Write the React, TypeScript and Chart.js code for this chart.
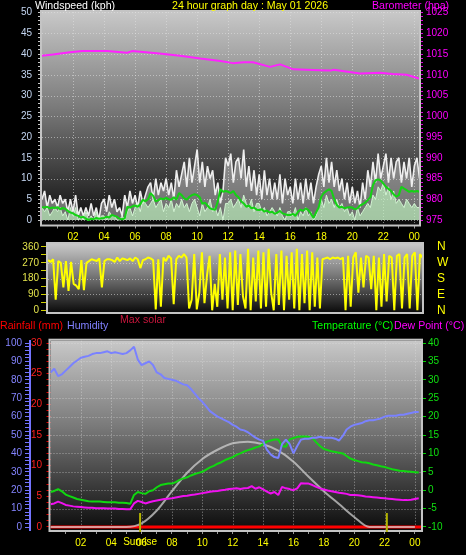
import React, { useEffect, useRef } from 'react';
import { Chart, registerables } from 'chart.js';

Chart.register(...registerables);

const FONT = '"Liberation Sans", Arial, sans-serif';

// ---------- time axis ----------
const FINE_STEP_MIN = 10; // wind samples every 10 minutes
const COARSE_STEP_MIN = 15; // temperature / humidity samples every 15 minutes
const HOUR_TICKS = [2, 4, 6, 8, 10, 12, 14, 16, 18, 20, 22, 24];
const HOUR_LABELS = ['02', '04', '06', '08', '10', '12', '14', '16', '18', '20', '22', '00'];

// ---------- axis tick labels ----------
const WIND_TICKS = [0, 5, 10, 15, 20, 25, 30, 35, 40, 45, 50];
const BARO_TICKS = [975, 980, 985, 990, 995, 1000, 1005, 1010, 1015, 1020, 1025];
const DIR_TICKS = [0, 90, 180, 270, 360];
const DIR_LABELS = ['0', '90', '180', '270', '360'];
const COMPASS_LABELS = ['N', 'E', 'S', 'W', 'N'];
const HUM_TICKS = [0, 10, 20, 30, 40, 50, 60, 70, 80, 90, 100];
const RAIN_TICKS = [0, 5, 10, 15, 20, 25, 30];
const TEMP_TICKS = [-10, -5, 0, 5, 10, 15, 20, 25, 30, 35, 40];

// ---------- wind (kph), one value per 10 minutes, 00:00 .. 24:20 ----------
const WIND_GUST = [
  5, 7, 3, 6, 4, 5, 3, 6, 4, 5, 2, 5,
  2, 6, 1, 3, 1, 3, 1, 4, 1, 3, 0, 4,
  5, 2, 6, 3, 5, 2, 3, 1, 6, 3, 7, 4,
  6, 3, 7, 4, 6, 8, 9, 5, 10, 6, 9, 7,
  10, 6, 9, 5, 12, 8, 11, 14, 8, 15, 9, 13,
  17, 9, 14, 8, 13, 10, 12, 6, 9, 4, 7, 15,
  13, 16, 9, 14, 15, 10, 17, 8, 13, 7, 12, 6,
  11, 5, 12, 6, 10, 5, 9, 5, 11, 4, 10, 6,
  8, 4, 10, 5, 9, 4, 10, 5, 9, 4, 8, 11,
  13, 8, 15, 9, 14, 8, 12, 7, 10, 5, 9, 4,
  8, 4, 7, 3, 9, 5, 12, 8, 14, 9, 16, 10,
  13, 16, 9, 15, 10, 14, 15, 9, 14, 10, 15, 8,
  13, 15, 10,
];
const WIND_SPEED = [
  3, 2, 3, 1, 2, 3, 2, 3, 1, 2, 0, 3,
  1, 3, 0, 1, 0, 2, 0, 1, 0, 2, 0, 1,
  1, 0, 2, 1, 1, 0, 0, 1, 0, 2, 3, 1,
  3, 4, 2, 5, 4, 3, 4, 5, 3, 4, 5, 2,
  4, 3, 5, 2, 4, 3, 5, 3, 4, 2, 4, 5,
  3, 1, 4, 2, 3, 5, 2, 3, 1, 3, 0, 4,
  4, 5, 3, 4, 5, 3, 6, 4, 3, 5, 2, 4,
  4, 2, 3, 1, 2, 3, 2, 1, 3, 1, 0, 2,
  2, 1, 3, 0, 2, 1, 3, 1, 2, 0, 1, 3,
  5, 3, 6, 4, 5, 3, 5, 3, 4, 2, 3, 1,
  2, 0, 3, 1, 2, 3, 4, 3, 6, 5, 8, 7,
  9, 6, 8, 5, 7, 4, 5, 4, 3, 5, 4, 3,
  4, 3, 3,
];
const WIND_AVG = [
  3.1, 3.0, 3.2, 2.8, 3.0, 2.9, 3.1, 2.6, 2.9, 2.7, 2.2, 1.8,
  1.6, 1.2, 1.0, 0.6, 0.8, 0.3, 0.0, 0.3, 0.2, 0.5, 0.3, 0.4,
  0.5, 0.8, 0.6, 1.2, 1.0, 0.8, 0.3, 0.2, 0.4, 3.2, 3.0, 3.3,
  3.5, 3.2, 3.8, 4.9, 4.5, 5.0, 6.5, 5.8, 4.5, 4.8, 5.2, 5.0,
  5.3, 5.0, 4.9, 5.5, 4.9, 6.5, 6.0, 5.2, 4.9, 5.6, 6.0, 6.2,
  6.0, 5.5, 3.9, 4.2, 3.5, 2.8, 2.6, 2.5, 4.5, 7.4, 6.8, 7.0,
  6.8, 6.5, 7.0, 6.0, 5.5, 4.5, 4.0, 3.2, 3.5, 2.8, 3.0, 2.5,
  2.4, 2.6, 2.0, 2.3, 1.8, 2.0, 1.5, 1.8, 2.2, 1.6, 1.4, 1.2,
  1.2, 1.5, 1.0, 2.0, 2.5, 2.2, 2.8, 2.4, 1.5, 0.5, 1.8, 3.0,
  5.6, 6.5, 7.0, 7.4, 7.0, 5.0, 3.6, 3.0, 3.2, 2.8, 3.0, 3.1,
  3.0, 2.6, 2.8, 3.5, 3.8, 4.2, 4.8, 5.5, 8.4, 9.6, 9.8, 9.5,
  8.8, 8.0, 7.5, 7.0, 6.2, 5.6, 6.0, 8.0, 7.6, 7.2, 6.8, 7.0,
  6.8, 7.0, 6.8,
];
// wind direction (degrees), one value per 10 minutes
const WIND_DIR = [
  285, 275, 290, 60, 280, 270, 130, 280, 110, 275, 150, 140,
  120, 285, 115, 270, 280, 290, 285, 280, 295, 130, 280, 290,
  290, 285, 275, 300, 280, 295, 290, 285, 295, 280, 300, 290,
  240, 285, 290, 300, 295, 285, 5, 290, 20, 300, 280, 310,
  295, 35, 290, 310, 300, 320, 300, 10, 60, 320, 5, 100,
  330, 40, 200, 310, 0, 150, 20, 320, 60, 300, 10, 330,
  0, 340, 30, 320, 80, 10, 350, 0, 300, 50, 340, 10,
  330, 20, 350, 100, 0, 320, 30, 340, 0, 310, 60, 330,
  10, 350, 0, 320, 40, 340, 0, 330, 20, 300, 10, 290,
  295, 300, 290, 300, 295, 300, 290, 300, 0, 310, 20, 300,
  330, 100, 300, 130, 310, 300, 120, 310, 0, 300, 20, 320,
  50, 310, 300, 0, 310, 320, 10, 300, 320, 10, 310, 330,
  0, 320, 300,
];

// ---------- barometer (hPa) ----------
const BARO_HOURS = [0, 0.7, 1.8, 2.6, 4.2, 5.5, 5.8, 7.4, 8.9, 10.2, 11.5, 12.3, 13.0, 13.6, 14.7, 15.35, 16.2, 17.9, 18.6, 18.8, 20.5, 21.8, 22.6, 23.5, 24.3];
const BARO_HPA = [1014.6, 1014.9, 1015.4, 1015.7, 1015.7, 1015.3, 1015.7, 1015.2, 1014.6, 1013.9, 1013.3, 1012.8, 1013.0, 1013.0, 1011.9, 1012.5, 1011.3, 1011.1, 1011.0, 1011.2, 1010.3, 1010.5, 1010.2, 1010.0, 1009.1];

// ---------- humidity (%), temperature and dew point (°C), one value per 15 minutes ----------
const HUMIDITY = [
  84, 86, 82, 83, 85, 87, 89, 90.5,
  92, 92.5, 93, 94, 94.5, 94.5, 95, 95.5,
  94.5, 95, 94.5, 94, 94.5, 96, 98, 91,
  88, 89, 90, 88, 84, 83, 81, 80.5,
  80, 79.5, 78.5, 77.5, 77, 75, 72.5, 70,
  68, 65.5, 63, 61.5, 60, 59, 58, 57,
  55.5, 54.5, 53, 52.5, 51.5, 50, 48.6, 47.5,
  46.8, 42, 39.5, 38, 37.5, 45, 47.5, 45,
  40, 44, 47.5, 48, 48, 48.5, 48.5, 49,
  48.5, 48.5, 48.5, 48, 47, 49.5, 53, 54.5,
  55.5, 56, 56.5, 57.5, 58, 58, 58.5, 59,
  60, 60.5, 60.5, 60.5, 61, 61, 61.5, 62,
  62.5, 62.5,
];
const TEMPERATURE = [
  -0.5, -0.2, 0.3, -0.3, -1.2, -1.6, -2.0, -2.4,
  -2.6, -2.8, -3.0, -3.1, -3.1, -3.1, -3.2, -3.3,
  -3.3, -3.3, -3.4, -3.4, -3.5, -3.7, -1.3, -0.5,
  -0.8, -1.0, -0.3, 0.0, 0.8, 1.4, 1.6, 1.8,
  1.8, 2.2, 2.8, 3.2, 3.5, 4.0, 4.4, 4.7,
  5.0, 5.6, 6.2, 6.6, 7.2, 7.6, 8.2, 8.6,
  9.0, 9.6, 10.0, 10.5, 10.9, 11.2, 11.6, 11.9,
  12.5, 13.2, 13.5, 13.8, 13.8, 12.0, 11.8, 13.8,
  14.2, 14.5, 14.6, 14.6, 14.5, 14.2, 13.0, 12.0,
  11.2, 10.9, 10.6, 10.4, 10.2, 10.0, 9.3, 8.6,
  8.2, 7.9, 7.6, 7.5, 7.3, 7.0, 6.8, 6.5,
  6.3, 6.0, 5.7, 5.5, 5.3, 5.2, 5.1, 5.0,
  4.9, 4.8,
];
const DEW_POINT = [
  -3.8, -3.6, -3.1, -3.5, -4.0, -4.2, -4.4, -4.5,
  -4.6, -4.7, -4.8, -4.8, -4.9, -4.9, -4.9, -5.0,
  -5.0, -5.0, -5.1, -5.1, -5.2, -5.2, -3.6, -2.9,
  -3.2, -3.6, -3.3, -3.0, -2.8, -2.6, -2.4, -2.3,
  -2.2, -2.0, -1.8, -1.6, -1.5, -1.3, -1.2, -1.0,
  -0.8, -0.6, -0.4, -0.3, -0.2, 0.0, 0.1, 0.3,
  0.4, 0.5, 0.3, 0.5, 0.6, 1.1, 0.4, 0.8,
  0.2, -0.4, -0.9, -0.5, -1.3, 0.9, 0.5, 0.3,
  0.0, 0.5, 1.9, 1.8, 1.8, 1.4, 0.9, 0.5,
  0.2, -0.1, -0.3, -0.5, -0.7, -0.85, -1.0, -1.3,
  -1.3, -1.4, -1.5, -1.7, -1.8, -1.9, -2.0, -2.1,
  -2.2, -2.3, -2.4, -2.5, -2.6, -2.7, -2.7, -2.6,
  -2.4, -2.2,
];

// ---------- rainfall (mm) and max solar (W/m²) ----------
const RAIN_HOURS = [0, 24.4];
const RAIN_MM = [0, 0];
const SOLAR_HOURS = [0, 1, 2, 3, 4, 5, 6, 7, 8, 9, 10, 11, 12, 13, 14, 15, 16, 17, 18, 19, 20, 21, 22, 23, 24];
const MAX_SOLAR = [0, 0, 0, 0, 0, 0, 40, 180, 390, 590, 740, 840, 910, 928, 900, 830, 710, 546, 390, 250, 110, 0, 0, 0, 0];

const SUN_EVENT_HOURS = [5.9, 22.15];
const SUN_EVENT_LABELS = ['Sunrise', ''];

// ---------- helpers ----------
const series = (vals: number[], stepMin: number) => vals.map((y, i) => ({ x: (i * stepMin) / 60, y }));
const pairs = (xs: number[], ys: number[]) => xs.map((x, i) => ({ x, y: ys[i] }));
const tickRange = (from: number, to: number, step: number) => {
  const out: any[] = [];
  for (let v = from; v <= to; v += step) out.push({ value: v });
  return out;
};

const timeAxis = (max: number, height: number, showLabels: boolean) => ({
  type: 'linear',
  min: 0,
  max,
  afterFit: (s: any) => {
    s.height = height;
  },
  afterBuildTicks: (s: any) => {
    s.ticks = tickRange(1, 24, 1);
  },
  ticks: {
    display: showLabels,
    color: '#ffff00',
    font: { family: FONT, size: 10 },
    padding: 3,
    autoSkip: false,
    maxRotation: 0,
    callback: (v: any) => {
      const i = HOUR_TICKS.indexOf(v);
      return i >= 0 ? HOUR_LABELS[i] : '';
    },
  },
  grid: { display: showLabels, drawOnChartArea: false, tickLength: 4, tickColor: '#9a9a9a', color: '#9a9a9a' },
  border: { display: false },
});

const valueAxis = (o: any) => ({
  type: 'linear',
  position: o.position,
  weight: o.weight || 0,
  min: o.min,
  max: o.max,
  afterFit: (s: any) => {
    s.width = o.width;
  },
  afterBuildTicks: (s: any) => {
    s.ticks = tickRange(o.from, o.to, o.step);
  },
  ticks: {
    color: o.color,
    font: { family: FONT, size: o.fontSize || 10 },
    padding: o.padding,
    autoSkip: false,
    callback: (v: any) => {
      const i = o.majors.indexOf(v);
      return i >= 0 ? o.labels[i] : '';
    },
  },
  grid: {
    drawOnChartArea: false,
    drawTicks: true,
    tickLength: o.tickLength,
    tickColor: o.tickColor,
    color: o.tickColor,
  },
  border: o.border || { display: false },
});

const panelPlugin = (yScale: string, yLines: number[], xLines: number[]) => ({
  id: 'panelBg',
  beforeDatasetsDraw(chart: any) {
    const { ctx, chartArea: a, scales } = chart;
    ctx.save();
    const g = ctx.createLinearGradient(0, a.top, 0, a.bottom);
    g.addColorStop(0, '#c8c8c8');
    g.addColorStop(0.45, '#7a7a7a');
    g.addColorStop(1, '#0c0c0c');
    ctx.fillStyle = g;
    ctx.fillRect(a.left, a.top, a.right - a.left, a.bottom - a.top);
    ctx.lineWidth = 1;
    ctx.setLineDash([1, 2]);
    ctx.strokeStyle = 'rgba(225,225,225,0.55)';
    ctx.beginPath();
    yLines.forEach((v) => {
      const y = Math.round(scales[yScale].getPixelForValue(v)) + 0.5;
      ctx.moveTo(a.left, y);
      ctx.lineTo(a.right, y);
    });
    xLines.forEach((h) => {
      const x = Math.round(scales.x.getPixelForValue(h)) + 0.5;
      ctx.moveTo(x, a.top);
      ctx.lineTo(x, a.bottom);
    });
    ctx.stroke();
    ctx.setLineDash([]);
    ctx.strokeStyle = '#c4c4c4';
    ctx.lineWidth = 2;
    ctx.strokeRect(a.left - 1, a.top - 1, a.right - a.left + 2, a.bottom - a.top + 2);
    ctx.restore();
  },
});

const sunPlugin = {
  id: 'sunEvents',
  afterDraw(chart: any) {
    const { ctx, chartArea: a, scales } = chart;
    ctx.save();
    ctx.strokeStyle = '#b4b400';
    ctx.lineWidth = 2;
    SUN_EVENT_HOURS.forEach((h, i) => {
      const x = scales.x.getPixelForValue(h);
      ctx.beginPath();
      ctx.moveTo(x, a.bottom + 2);
      ctx.lineTo(x, a.bottom - 17);
      ctx.stroke();
      if (SUN_EVENT_LABELS[i]) {
        ctx.fillStyle = '#ffff00';
        ctx.font = `10px ${FONT}`;
        ctx.textAlign = 'center';
        ctx.textBaseline = 'top';
        ctx.fillText(SUN_EVENT_LABELS[i], x, a.bottom + 7);
      }
    });
    ctx.restore();
  },
};

const lineDefaults = { pointRadius: 0, tension: 0, borderJoinStyle: 'bevel', fill: false };

function topConfig(): any {
  return {
    type: 'line',
    data: {
      datasets: [
        { ...lineDefaults, data: pairs(BARO_HOURS, BARO_HPA), yAxisID: 'baro', borderColor: '#ff22ff', borderWidth: 2, order: 1 },
        { ...lineDefaults, data: series(WIND_AVG, FINE_STEP_MIN), yAxisID: 'wind', borderColor: '#14d214', borderWidth: 2, order: 2 },
        { ...lineDefaults, data: series(WIND_SPEED, FINE_STEP_MIN), yAxisID: 'wind', borderColor: '#d4f6d4', backgroundColor: 'rgba(200,244,200,0.8)', fill: 'origin', borderWidth: 1, order: 3 },
        { ...lineDefaults, data: series(WIND_GUST, FINE_STEP_MIN), yAxisID: 'wind', borderColor: '#eeeeee', backgroundColor: 'rgba(235,235,235,0.42)', fill: 2, borderWidth: 1.6, order: 4 },
      ],
    },
    options: {
      responsive: false,
      animation: false,
      events: [],
      layout: { padding: { top: 12, left: 0, right: 0, bottom: 0 } },
      plugins: { legend: { display: false }, tooltip: { enabled: false } },
      scales: {
        x: timeAxis(24.3, 19.5, true),
        wind: valueAxis({ position: 'left', min: -1.08, max: 50.12, width: 42, from: 0, to: 50, step: 1, majors: WIND_TICKS, labels: WIND_TICKS.map(String), color: '#c4d6f2', padding: 6, tickLength: 4, tickColor: '#c8c8c8' }),
        baro: valueAxis({ position: 'right', min: 973.92, max: 1025.12, width: 47, from: 975, to: 1025, step: 1, majors: BARO_TICKS, labels: BARO_TICKS.map(String), color: '#ff00ff', padding: 3, tickLength: 4, tickColor: '#e000e0' }),
      },
    },
    plugins: [panelPlugin('wind', WIND_TICKS, HOUR_TICKS)],
  };
}

function midConfig(): any {
  return {
    type: 'line',
    data: {
      datasets: [
        { ...lineDefaults, data: series(WIND_DIR, FINE_STEP_MIN), yAxisID: 'dir', borderColor: '#ffff00', borderWidth: 2 },
      ],
    },
    options: {
      responsive: false,
      animation: false,
      events: [],
      layout: { padding: { top: 8, left: 0, right: 0, bottom: 0 } },
      plugins: { legend: { display: false }, tooltip: { enabled: false } },
      scales: {
        x: timeAxis(24.3, 8, false),
        dir: valueAxis({ position: 'left', min: -9.7, max: 377, width: 48, from: 0, to: 360, step: 45, majors: DIR_TICKS, labels: DIR_LABELS, color: '#e4e44c', padding: 2, tickLength: 7, tickColor: '#d0d000' }),
        compass: valueAxis({ position: 'right', min: -9.7, max: 377, width: 44, from: 0, to: 360, step: 90, majors: DIR_TICKS, labels: COMPASS_LABELS, color: '#ffff00', fontSize: 12, padding: 0, tickLength: 15, tickColor: 'rgba(0,0,0,0)' }),
      },
    },
    plugins: [panelPlugin('dir', [90, 180, 270], [])],
  };
}

function botConfig(): any {
  return {
    type: 'line',
    data: {
      datasets: [
        { ...lineDefaults, data: series(HUMIDITY, COARSE_STEP_MIN), yAxisID: 'hum', borderColor: '#7a82ff', borderWidth: 2, order: 1 },
        { ...lineDefaults, data: series(TEMPERATURE, COARSE_STEP_MIN), yAxisID: 'temp', borderColor: '#10d810', borderWidth: 2, order: 2 },
        { ...lineDefaults, data: series(DEW_POINT, COARSE_STEP_MIN), yAxisID: 'temp', borderColor: '#f010f0', borderWidth: 2, order: 3 },
        { ...lineDefaults, data: pairs(SOLAR_HOURS, MAX_SOLAR), yAxisID: 'solar', borderColor: 'rgba(212,212,212,0.72)', borderWidth: 2, cubicInterpolationMode: 'monotone', order: 4 },
        { ...lineDefaults, data: pairs(RAIN_HOURS, RAIN_MM), yAxisID: 'rain', borderColor: '#ff0000', borderWidth: 3, order: 5 },
      ],
    },
    options: {
      responsive: false,
      animation: false,
      events: [],
      layout: { padding: { top: 10.7, left: 0, right: 0, bottom: 0 } },
      plugins: { legend: { display: false }, tooltip: { enabled: false } },
      scales: {
        x: timeAxis(24.4, 25, true),
        hum: valueAxis({ position: 'left', weight: 2, min: -1.63, max: 101.25, width: 30, from: 0, to: 100, step: 2, majors: HUM_TICKS, labels: HUM_TICKS.map(String), color: '#8484ff', padding: 3, tickLength: 5, tickColor: '#7474ff', border: { display: true, color: '#7474ff', width: 2 } }),
        rain: valueAxis({ position: 'left', weight: 1, min: -0.49, max: 30.38, width: 20.5, from: 0, to: 30, step: 1, majors: RAIN_TICKS, labels: RAIN_TICKS.map(String), color: '#ff2020', padding: 4.5, tickLength: 4, tickColor: '#e00000' }),
        temp: valueAxis({ position: 'right', min: -10.82, max: 40.63, width: 45, from: -10, to: 40, step: 5, majors: TEMP_TICKS, labels: TEMP_TICKS.map(String), color: '#10e010', padding: 2, tickLength: 5, tickColor: '#00d000' }),
        solar: { type: 'linear', display: false, min: -32, max: 2025 },
      },
    },
    plugins: [panelPlugin('temp', TEMP_TICKS, HOUR_TICKS), sunPlugin],
  };
}

const Label = ({ x, y, color, children }: any) => (
  <div
    style={{
      position: 'absolute',
      left: x,
      top: y,
      color,
      font: `10.6px ${FONT}`,
      lineHeight: '12px',
      whiteSpace: 'nowrap',
    }}
  >
    {children}
  </div>
);

export default function App() {
  const topRef = useRef<HTMLCanvasElement>(null);
  const midRef = useRef<HTMLCanvasElement>(null);
  const botRef = useRef<HTMLCanvasElement>(null);

  useEffect(() => {
    const charts = [
      new Chart(topRef.current as any, topConfig()),
      new Chart(midRef.current as any, midConfig()),
      new Chart(botRef.current as any, botConfig()),
    ];
    return () => charts.forEach((c) => c.destroy());
  }, []);

  return (
    <div style={{ position: 'absolute', left: 0, top: 0, width: 466, height: 555, background: '#000', overflow: 'hidden' }}>
      <canvas ref={topRef} width={466} height={244} style={{ position: 'absolute', left: 0, top: 0 }} />
      <canvas ref={midRef} width={466} height={84} style={{ position: 'absolute', left: 0, top: 236 }} />
      <canvas ref={botRef} width={466} height={225} style={{ position: 'absolute', left: 0, top: 330 }} />
      <Label x={35} y={-1} color="#ffffff">Windspeed (kph)</Label>
      <Label x={172} y={-1} color="#ffff00">24 hour graph day : May 01 2026</Label>
      <Label x={372} y={-1} color="#ff00ff">Barometer (hpa)</Label>
      <Label x={120} y={313} color="#c8163c">Max solar</Label>
      <Label x={0} y={319} color="#ff0000">Rainfall (mm)</Label>
      <Label x={67} y={319} color="#8080ff">Humidity</Label>
      <Label x={312} y={319} color="#00ff00">Temperature (°C)</Label>
      <Label x={394} y={319} color="#ff00ff">Dew Point (°C)</Label>
    </div>
  );
}
